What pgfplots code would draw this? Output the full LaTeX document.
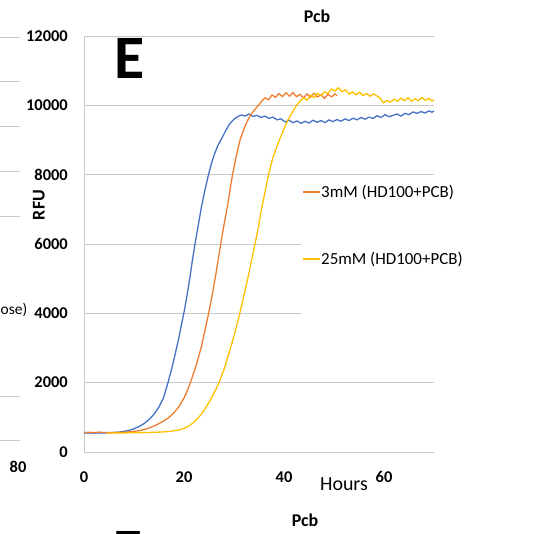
\documentclass[border=0pt]{standalone}
\usepackage{fontspec}
\setmainfont{Carlito}
\usepackage{pgfplots}
\pgfplotsset{compat=1.18}
\definecolor{cblue}{HTML}{4472C4}
\definecolor{corange}{HTML}{ED7D31}
\definecolor{cyellow}{HTML}{FFC000}
\definecolor{cgrid}{HTML}{C8C8C8}
\begin{document}
\begin{tikzpicture}[x=1bp,y=1bp]
\useasboundingbox (0,0) rectangle (538,534);
% fragments of the neighbouring panels
\foreach \yy in {37,81,126,171,216,396,440}{\draw[cgrid,line width=0.9bp] (0,534-\yy) -- (20,534-\yy);}
\node[anchor=west,inner sep=0pt,font=\fontsize{15.5}{18}\selectfont] at (0.5,534-310) {ose)};
\node[inner sep=0pt,font=\bfseries\fontsize{16.5}{20}\selectfont] at (18,534-467) {80};
\node[inner sep=0pt,font=\bfseries\fontsize{18}{20}\selectfont] at (305,534-520) {Pcb};
\begin{scope}
\clip (0,0) rectangle (538,534);
\node[anchor=base west,inner sep=0pt,font=\bfseries\fontsize{62}{70}\selectfont] at (113,534-571) {F};
\end{scope}
\begin{scope}[shift={(84bp,82bp)}]
\begin{axis}[
  at={(0pt,0pt)}, anchor=south west,
  scale only axis, width=350bp, height=416bp,
  xmin=0, xmax=70, ymin=0, ymax=12000,
  scaled y ticks=false, scaled x ticks=false,
  axis x line*=bottom, axis y line*=left,
  axis line style={-, draw=cgrid, line width=0.9bp},
  ymajorgrids, grid style={draw=cgrid, line width=0.9bp},
  xtick={0,20,40,60}, xticklabels={0,20,40,60},
  ytick={0,2000,4000,6000,8000,10000,12000},
  yticklabels={0,2000,4000,6000,8000,10000,12000},
  major tick length=0pt,
  tick label style={font=\bfseries\fontsize{16.5}{20}\selectfont, inner sep=0pt},
  yticklabel style={anchor=east, xshift=-16bp},
  xticklabel style={anchor=center, yshift=-25bp},
  clip=false,
  every axis plot/.append style={line width=1.3bp, no markers, line join=round},
]
\addplot[cblue] coordinates {
(0,545)(1,550)(2,543)(3,552)(4,548)(5,556)(6,562)(7,575)(8,595)(9,625)(10,670)(11,735)
(12,820)(13,935)(14,1090)(15,1300)(15.9,1560)(16.8,2000)(17.5,2380)(18.2,2800)(18.9,3250)
(19.5,3680)(20.1,4100)(20.7,4600)(21.2,5050)(21.7,5550)(22.2,6000)(22.8,6500)(23.4,7000)
(24.1,7500)(24.9,8000)(25.5,8330)(26.1,8600)(26.8,8850)(27.5,9030)(28.3,9260)(29.2,9480)
(30.0,9600)(30.8,9680)(31.5,9720)(32.2,9690)(33.0,9750)(33.8,9680)(34.6,9710)(35.4,9650)
(36.2,9690)(37.0,9620)(37.8,9660)(38.6,9580)(39.4,9610)(40.2,9520)(41.0,9570)(41.8,9500)
(42.6,9550)(43.4,9480)(44.2,9540)(45.0,9490)(45.8,9570)(46.6,9510)(47.4,9560)(48.2,9500)
(49.0,9580)(49.8,9530)(50.6,9590)(51.4,9540)(52.2,9610)(53.0,9560)(53.8,9630)(54.6,9580)
(55.4,9650)(56.2,9600)(57.0,9660)(57.8,9620)(58.6,9700)(59.4,9650)(60.2,9730)(61.0,9670)
(61.8,9710)(62.6,9750)(63.4,9690)(64.2,9770)(65.0,9730)(65.8,9810)(66.6,9770)(67.4,9820)
(68.2,9780)(69.0,9840)(69.6,9800)(70,9840)
};
\addplot[corange] coordinates {
(0,560)(1,570)(2,555)(3,575)(4,560)(5,565)(6,558)(7,565)(8,570)(9,580)(10,595)(11,615)
(12,645)(13,690)(14,750)(15,820)(16,900)(17,1000)(18,1130)(19,1310)(20,1560)(20.7,1780)
(21.4,2050)(22.1,2350)(22.8,2680)(23.5,3050)(24.1,3450)(24.7,3850)(25.2,4200)(25.8,4650)
(26.4,5150)(26.9,5600)(27.4,6050)(28.0,6550)(28.7,7100)(29.2,7550)(29.7,8000)(30.4,8500)
(31.2,9000)(32.2,9400)(33.2,9700)(34.0,9850)(34.9,10000)(35.6,10130)(36.2,10220)(36.9,10160)
(37.6,10300)(38.3,10230)(39.0,10340)(39.7,10250)(40.4,10360)(41.1,10260)(41.8,10370)
(42.5,10250)(43.2,10320)(43.9,10210)(44.6,10330)(45.3,10230)(46.0,10350)(46.7,10240)
(47.4,10310)(48.1,10200)(48.8,10320)(49.5,10240)(50.2,10330)(50.6,10280)
};
\addplot[cyellow] coordinates {
(4.6,545)(6,548)(8,550)(10,555)(12,560)(14,568)(16,580)(17.5,600)(19,635)(20,680)(21,750)
(22,860)(23,1010)(24,1200)(25,1430)(26,1700)(27,2000)(28,2380)(29,2850)(30,3350)(31,3900)
(31.8,4400)(32.6,4900)(33.4,5450)(34.2,6000)(34.9,6500)(35.5,7000)(36.2,7500)(36.9,8000)
(37.8,8500)(38.8,8900)(39.8,9250)(40.8,9580)(41.6,9780)(42.5,10000)(43.2,10120)(43.9,10220)
(44.6,10150)(45.3,10300)(46.0,10220)(46.7,10350)(47.4,10270)(48.1,10390)(48.8,10340)
(49.5,10470)(50.2,10410)(50.9,10510)(51.6,10390)(52.3,10450)(53.0,10320)(53.7,10390)
(54.4,10300)(55.1,10380)(55.8,10280)(56.5,10340)(57.2,10260)(57.9,10330)(58.6,10270)
(59.3,10200)(59.9,10070)(60.6,10140)(61.3,10090)(62.0,10180)(62.7,10110)(63.4,10210)
(64.1,10130)(64.8,10220)(65.5,10120)(66.2,10190)(66.9,10130)(67.6,10230)(68.3,10140)
(69.0,10200)(69.6,10120)(70,10160)
};
\end{axis}
\end{scope}
% legend area (covers the grid lines behind it)
\fill[white] (300.7,534-330) rectangle (437,534-182);
\draw[corange,line width=1.3bp] (303,534-192) -- (320,534-192);
\node[anchor=west,inner sep=0pt,font=\fontsize{17}{20}\selectfont] at (321,534-192) {3mM (HD100+PCB)};
\draw[cyellow,line width=1.3bp] (303,534-259) -- (320,534-259);
\node[anchor=west,inner sep=0pt,font=\fontsize{17}{20}\selectfont] at (321,534-259) {25mM (HD100+PCB)};
% titles and labels
\node[inner sep=0pt,font=\bfseries\fontsize{18}{20}\selectfont] at (317,534-16) {Pcb};
\node[inner sep=0pt,font=\bfseries\fontsize{62}{70}\selectfont] at (130,534-58) {E};
\node[inner sep=0pt,font=\fontsize{20}{24}\selectfont] at (344,534-484) {Hours};
\node[inner sep=0pt,rotate=90,font=\bfseries\fontsize{18}{20}\selectfont] at (39,534-205) {RFU};
\end{tikzpicture}
\end{document}
